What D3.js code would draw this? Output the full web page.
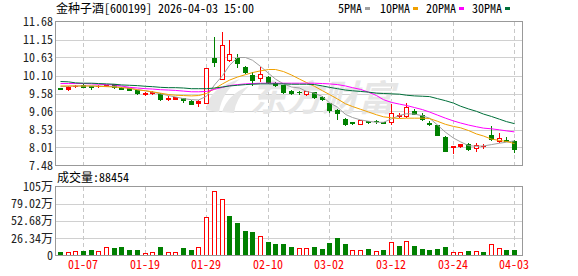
<!DOCTYPE html>
<meta charset="utf-8">
<script src="https://d3js.org/d3.v7.min.js"></script>
<style>
  body { margin: 0; background: #fff; }
  text { font-family: 'Noto Sans Mono CJK SC', 'Noto Sans CJK SC', monospace; font-size: 12px; }
</style>
<div id="kline"></div>
<script>
// trading days shown
var dates = ["2025-12-31","2026-01-05","2026-01-06","2026-01-07","2026-01-08","2026-01-09","2026-01-12","2026-01-13","2026-01-14","2026-01-15",
  "2026-01-16","2026-01-19","2026-01-20","2026-01-21","2026-01-22","2026-01-23","2026-01-26","2026-01-27","2026-01-28","2026-01-29",
  "2026-01-30","2026-02-02","2026-02-03","2026-02-04","2026-02-05","2026-02-06","2026-02-09","2026-02-10","2026-02-11","2026-02-12",
  "2026-02-13","2026-02-24","2026-02-25","2026-02-26","2026-02-27","2026-03-02","2026-03-03","2026-03-04","2026-03-05","2026-03-06",
  "2026-03-09","2026-03-10","2026-03-11","2026-03-12","2026-03-13","2026-03-16","2026-03-17","2026-03-18","2026-03-19","2026-03-20",
  "2026-03-23","2026-03-24","2026-03-25","2026-03-26","2026-03-27","2026-03-30","2026-03-31","2026-04-01","2026-04-02","2026-04-03"];

// OHLC
var open  = [9.73,9.70,9.79,9.83,9.79,9.79,9.81,9.85,9.74,9.74, 9.68,9.58,9.60,9.58,9.43,9.42,9.44,9.37,9.30,9.31,
             10.62,10.01,10.56,10.62,10.35,10.12,10.03,10.07,9.90,9.82, 9.66,9.62,9.57,9.61,9.49,9.30,9.10,8.84,8.75,8.70,
             8.78,8.78,8.74,8.76,8.93,8.92,9.08,8.95,8.73,8.66, 8.32,8.01,8.04,8.10,7.98,8.05,8.37,8.20,8.21,8.20];
var high  = [9.74,9.80,9.83,9.85,9.81,9.84,9.84,9.86,9.76,9.75, 9.69,9.61,9.65,9.59,9.50,9.49,9.46,9.38,9.38,10.33,
             11.22,11.38,11.15,10.73,10.38,10.22,10.34,10.10,9.92,9.83, 9.68,9.65,9.66,9.63,9.50,9.31,9.12,8.86,8.76,8.82,
             8.79,8.82,8.75,9.28,9.00,9.30,9.13,9.00,8.79,8.67, 8.33,8.05,8.12,8.13,8.14,8.11,8.63,8.43,8.30,8.22];
var low   = [9.70,9.68,9.77,9.77,9.71,9.77,9.79,9.74,9.70,9.67, 9.57,9.55,9.58,9.40,9.38,9.41,9.33,9.26,9.22,9.30,
             10.37,10.00,10.54,10.34,10.18,9.83,9.94,9.90,9.80,9.60, 9.57,9.58,9.55,9.44,9.40,9.05,8.83,8.66,8.70,8.68,
             8.72,8.72,8.71,8.69,8.88,8.90,8.97,8.80,8.67,8.37, 7.91,7.85,8.02,7.94,7.91,8.00,8.22,8.18,8.19,7.88];
var close = [9.71,9.78,9.81,9.78,9.77,9.81,9.83,9.77,9.72,9.68, 9.59,9.60,9.62,9.42,9.45,9.48,9.40,9.27,9.37,10.32,
             10.49,10.99,10.74,10.47,10.21,9.97,10.16,9.93,9.83,9.61, 9.59,9.61,9.64,9.47,9.41,9.10,9.02,8.68,8.73,8.80,
             8.76,8.77,8.73,9.02,8.95,9.18,8.98,8.83,8.70,8.37, 7.91,8.04,8.10,7.96,8.09,8.06,8.24,8.28,8.20,7.95];

// volume, in 万
var volume = [4.6,5.6,7.2,6.2,7.7,7.2,13.3,10.8,12.3,7.7, 7.7,4.1,5.6,12.3,5.6,5.6,10.8,7.7,13.3,58.1,
              98.7,86.4,60.1,49.3,37.0,35.5,29.3,20.0,17.0,17.0, 12.8,10.8,10.8,12.8,10.3,18.5,26.7,17.5,8.7,8.7,
              9.3,7.2,7.7,20.0,13.9,22.6,14.4,9.3,7.7,9.3, 12.3,5.6,5.6,6.2,7.2,4.6,18.0,11.9,7.7,8.8454];

// moving averages
var ma5  = [9.78,9.79,9.80,9.80,9.80,9.80,9.79,9.78,9.77,9.74, 9.69,9.66,9.62,9.57,9.52,9.48,9.43,9.40,9.39,9.50,
            9.83,10.10,10.40,10.63,10.63,10.55,10.37,10.17,10.00,9.86, 9.77,9.74,9.64,9.59,9.49,9.31,9.18,8.97,8.88,8.81,
            8.77,8.74,8.74,8.84,8.94,8.99,8.98,8.93,8.86,8.66, 8.45,8.28,8.17,8.06,8.04,8.05,8.09,8.13,8.16,8.20];
var ma10 = [9.80,9.80,9.80,9.80,9.80,9.79,9.78,9.77,9.75,9.73, 9.69,9.66,9.63,9.59,9.55,9.53,9.52,9.51,9.52,9.58,
            9.72,9.86,9.97,10.06,10.13,10.19,10.24,10.28,10.28,10.22, 10.12,10.00,9.90,9.79,9.66,9.55,9.42,9.28,9.20,9.12,
            9.04,8.96,8.90,8.87,8.85,8.86,8.86,8.86,8.85,8.77, 8.68,8.62,8.58,8.50,8.40,8.34,8.25,8.21,8.18,8.12];
var ma20 = [9.87,9.87,9.87,9.87,9.86,9.85,9.84,9.83,9.80,9.76, 9.74,9.72,9.71,9.69,9.68,9.67,9.65,9.63,9.63,9.64,
            9.70,9.76,9.81,9.84,9.86,9.87,9.88,9.88,9.88,9.88, 9.88,9.88,9.88,9.88,9.87,9.86,9.84,9.80,9.75,9.70,
            9.62,9.52,9.40,9.32,9.27,9.23,9.17,9.11,9.04,8.95, 8.86,8.78,8.72,8.66,8.61,8.57,8.55,8.52,8.49,8.46];
var ma30 = [9.93,9.92,9.89,9.88,9.88,9.87,9.86,9.85,9.83,9.82, 9.81,9.79,9.78,9.76,9.75,9.75,9.74,9.72,9.72,9.72,
            9.74,9.77,9.80,9.82,9.84,9.85,9.86,9.86,9.86,9.86, 9.85,9.85,9.85,9.84,9.80,9.76,9.72,9.68,9.66,9.64,
            9.62,9.59,9.58,9.57,9.56,9.53,9.51,9.50,9.49,9.43, 9.37,9.30,9.21,9.13,9.06,8.98,8.91,8.83,8.76,8.70];

// axis ticks
var priceTicks = [7.48, 8.01, 8.53, 9.06, 9.58, 10.10, 10.63, 11.15, 11.68];
var volTicks = [0, 26.34, 52.68, 79.02, 105.36];
var volTickLabels = ["0", "26.34万", "52.68万", "79.02万", "105万"];
var dateTicks = ["2026-01-07","2026-01-19","2026-01-29","2026-02-10","2026-03-02","2026-03-12","2026-03-24","2026-04-03"];

var maSeries = [
  { name: "5PMA",  values: ma5,  color: "#a0a0a0" },
  { name: "10PMA", values: ma10, color: "#f0a000" },
  { name: "20PMA", values: ma20, color: "#ff00ff" },
  { name: "30PMA", values: ma30, color: "#006f3a" }
];

var RED = "#ff0000", GREEN = "#008000";

var width = 578, height = 276;
var left = 55.5, right = 522.5;
var mainTop = 21.5, mainBottom = 165.5;
var volTop = 186.5, volBottom = 255.5;

var svg = d3.select("#kline").append("svg")
  .attr("width", width).attr("height", height)
  .style("display", "block");

svg.append("rect").attr("width", width).attr("height", height).attr("fill", "#fff");

var x = d3.scaleBand().domain(dates).range([56, 518]).padding(0);
function cx(d) { return Math.round(x(d) + x.bandwidth() / 2); }

var y = d3.scaleLinear().domain([7.48, 11.68]).range([mainBottom, mainTop]);
var yv = d3.scaleLinear().domain([0, 105.36]).range([volBottom, volTop]);

// gridlines
var grid = svg.append("g").attr("shape-rendering", "crispEdges");
grid.selectAll(".hp").data(priceTicks.slice(1, -1)).enter().append("line")
  .attr("x1", left).attr("x2", right)
  .attr("y1", d => Math.round(y(d)) + 0.5).attr("y2", d => Math.round(y(d)) + 0.5)
  .attr("stroke", "#d0d0d0");
grid.selectAll(".hv").data(volTicks.slice(1, -1)).enter().append("line")
  .attr("x1", left).attr("x2", right)
  .attr("y1", d => Math.round(yv(d)) + 0.5).attr("y2", d => Math.round(yv(d)) + 0.5)
  .attr("stroke", "#d0d0d0");
[[mainTop, mainBottom], [volTop, volBottom]].forEach(function (r) {
  grid.selectAll(null).data(dateTicks).enter().append("line")
    .attr("x1", d => cx(d) + 0.5).attr("x2", d => cx(d) + 0.5)
    .attr("y1", r[0]).attr("y2", r[1])
    .attr("stroke", "#c8c8c8").attr("stroke-dasharray", "4,3");
});

// watermark
var wm = svg.append("g").attr("fill", "#e6e6e6");
wm.append("path").attr("d", "M206,110 Q208,88 240,79 Q222,92 219,112 Z");
wm.append("path").attr("d", "M222,112 Q228,94 249,86 Q236,98 234,113 Z");
wm.append("text").attr("x", 250).attr("y", 111)
  .style("font-family", "'Noto Sans CJK SC', sans-serif")
  .style("font-size", "36px").style("font-weight", "bold").style("font-style", "italic")
  .text("东方财富");

// candles
var idx = d3.range(dates.length);
var candles = svg.append("g");
idx.forEach(function (i) {
  var up = close[i] >= open[i];
  var col = up ? RED : GREEN;
  var xc = cx(dates[i]);
  var top = Math.round(y(Math.max(open[i], close[i])));
  var bot = Math.round(y(Math.min(open[i], close[i])));
  candles.append("line")
    .attr("x1", xc + 0.5).attr("x2", xc + 0.5)
    .attr("y1", Math.round(y(high[i]))).attr("y2", Math.round(y(low[i])) + 1)
    .attr("stroke", col).attr("shape-rendering", "crispEdges");
  if (up && bot - top > 2) {
    candles.append("rect")
      .attr("x", xc - 1.5).attr("y", top + 0.5)
      .attr("width", 4).attr("height", bot - top)
      .attr("fill", "#fff").attr("stroke", col).attr("shape-rendering", "crispEdges");
  } else {
    candles.append("rect")
      .attr("x", xc - 2).attr("y", top)
      .attr("width", 5).attr("height", Math.max(1, bot - top + 1))
      .attr("fill", col).attr("shape-rendering", "crispEdges");
  }
});

// moving average lines
var line = d3.line()
  .x((d, i) => cx(dates[i]) + 0.5)
  .y(d => y(d));
svg.append("g").selectAll("path").data(maSeries).enter().append("path")
  .attr("d", d => line(d.values))
  .attr("fill", "none")
  .attr("stroke", d => d.color)
  .attr("stroke-width", 1);

// volume bars (colour from close vs previous close)
var vols = svg.append("g").attr("shape-rendering", "crispEdges");
idx.forEach(function (i) {
  var prev = i > 0 ? close[i - 1] : open[i];
  var up = close[i] >= prev;
  var xc = cx(dates[i]);
  var top = Math.round(yv(volume[i]));
  if (up) {
    vols.append("rect")
      .attr("x", xc - 1.5).attr("y", top + 0.5)
      .attr("width", 4).attr("height", 255 - top)
      .attr("fill", "#fff").attr("stroke", RED);
  } else {
    vols.append("rect")
      .attr("x", xc - 2).attr("y", top)
      .attr("width", 5).attr("height", 256 - top)
      .attr("fill", GREEN);
  }
});

// panel borders
var frame = svg.append("g").attr("fill", "none").attr("stroke", "#999").attr("shape-rendering", "crispEdges");
frame.append("rect").attr("x", left).attr("y", mainTop).attr("width", right - left).attr("height", mainBottom - mainTop);
frame.append("rect").attr("x", left).attr("y", volTop).attr("width", right - left).attr("height", volBottom - volTop);

// y axis labels
svg.append("g").selectAll("text").data(priceTicks).enter().append("text")
  .attr("x", 53).attr("y", d => y(d)).attr("dy", "0.36em")
  .attr("text-anchor", "end").attr("fill", "#222")
  .text(d => d.toFixed(2));
svg.append("g").selectAll("text").data(volTicks).enter().append("text")
  .attr("x", 53).attr("y", d => yv(d)).attr("dy", "0.36em")
  .attr("text-anchor", "end").attr("fill", "#222")
  .text((d, i) => volTickLabels[i]);

// x axis labels
svg.append("g").selectAll("text").data(dateTicks).enter().append("text")
  .attr("x", d => cx(d)).attr("y", 269)
  .attr("text-anchor", "middle").attr("fill", RED)
  .text(d => d.slice(5));

// title and volume caption
svg.append("text").attr("x", 56).attr("y", 13).attr("fill", "#000")
  .text("金种子酒[600199] 2026-04-03 15:00");
svg.append("text").attr("x", 57).attr("y", 182).attr("fill", "#000")
  .text("成交量:" + Math.round(volume[volume.length - 1] * 10000));

// legend
var lx = [338, 380, 426, 472];
var legend = svg.append("g").selectAll("g").data(maSeries).enter().append("g")
  .attr("transform", (d, i) => "translate(" + lx[i] + ",0)");
legend.append("text").attr("x", 0).attr("y", 13).attr("fill", "#000").text(d => d.name);
legend.append("rect")
  .attr("x", d => d.name.length * 6 + 3).attr("y", 7)
  .attr("width", 5).attr("height", 3)
  .attr("fill", d => d.color);
</script>
